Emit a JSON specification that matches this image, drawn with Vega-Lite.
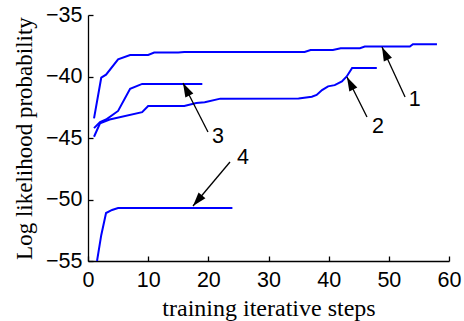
{
  "$schema": "https://vega.github.io/schema/vega-lite/v6.json",
  "autosize": {"type": "none"},
  "padding": {"left": 88, "top": 15, "right": 15, "bottom": 60},
  "width": 361,
  "height": 246,
  "background": "white",
  "config": {
    "view": {"stroke": null},
    "axis": {
      "grid": false,
      "domainColor": "black",
      "domainWidth": 1.3,
      "tickColor": "black",
      "tickWidth": 1.3,
      "tickSize": -5,
      "labelFlush": false,
      "labelFont": "Liberation Sans",
      "labelFontSize": 21.5,
      "labelColor": "black",
      "titleFont": "Liberation Serif",
      "titleFontWeight": "normal",
      "titleColor": "black"
    }
  },
  "datasets": {
    "lines": [
      {"s": "1", "x": 1, "y": -43.4}, {"s": "1", "x": 2.2, "y": -40.1}, {"s": "1", "x": 3, "y": -39.85},
      {"s": "1", "x": 5, "y": -38.6}, {"s": "1", "x": 7, "y": -38.25}, {"s": "1", "x": 10, "y": -38.25},
      {"s": "1", "x": 11, "y": -38.05}, {"s": "1", "x": 15, "y": -38.05}, {"s": "1", "x": 16, "y": -38.0},
      {"s": "1", "x": 36, "y": -38.0}, {"s": "1", "x": 37, "y": -37.85}, {"s": "1", "x": 40.7, "y": -37.85},
      {"s": "1", "x": 42, "y": -37.7}, {"s": "1", "x": 45.2, "y": -37.7}, {"s": "1", "x": 46, "y": -37.57},
      {"s": "1", "x": 53.5, "y": -37.57}, {"s": "1", "x": 54, "y": -37.38}, {"s": "1", "x": 58, "y": -37.38},
      {"s": "2", "x": 1, "y": -44.9}, {"s": "2", "x": 2, "y": -43.8}, {"s": "2", "x": 3.6, "y": -43.5},
      {"s": "2", "x": 9, "y": -42.9}, {"s": "2", "x": 10, "y": -42.4}, {"s": "2", "x": 16, "y": -42.4},
      {"s": "2", "x": 18, "y": -42.15}, {"s": "2", "x": 19.4, "y": -42.1}, {"s": "2", "x": 22, "y": -41.8},
      {"s": "2", "x": 35, "y": -41.78}, {"s": "2", "x": 37.2, "y": -41.64}, {"s": "2", "x": 38, "y": -41.5},
      {"s": "2", "x": 38.9, "y": -41.1}, {"s": "2", "x": 39.9, "y": -40.8}, {"s": "2", "x": 41, "y": -40.7},
      {"s": "2", "x": 42.2, "y": -40.4}, {"s": "2", "x": 43, "y": -40.0}, {"s": "2", "x": 43.9, "y": -39.3},
      {"s": "2", "x": 48, "y": -39.3},
      {"s": "3", "x": 1, "y": -44.2}, {"s": "3", "x": 2, "y": -43.7}, {"s": "3", "x": 3, "y": -43.5},
      {"s": "3", "x": 5, "y": -42.8}, {"s": "3", "x": 7, "y": -41.0}, {"s": "3", "x": 9, "y": -40.6},
      {"s": "3", "x": 19, "y": -40.6},
      {"s": "4", "x": 1.5, "y": -55}, {"s": "4", "x": 2.2, "y": -52.9}, {"s": "4", "x": 3, "y": -51.1},
      {"s": "4", "x": 4, "y": -50.85}, {"s": "4", "x": 5, "y": -50.7}, {"s": "4", "x": 24, "y": -50.7}
    ],
    "arrows": [
      {"id": "1", "tx": 52.7, "ty": -41.67, "hx": 48.86, "hy": -37.6, "lx": 54.3, "ly": -41.9},
      {"id": "2", "tx": 46.37, "ty": -43.29, "hx": 43.04, "hy": -40.04, "lx": 48.2, "ly": -44.1},
      {"id": "3", "tx": 19.94, "ty": -44.51, "hx": 15.79, "hy": -40.53, "lx": 21.6, "ly": -44.92},
      {"id": "4", "tx": 23.6, "ty": -46.95, "hx": 17.45, "hy": -50.53, "lx": 25.76, "ly": -46.63}
    ]
  },
  "layer": [
    {
      "data": {"name": "lines"},
      "mark": {"type": "line", "color": "#0000ff", "strokeWidth": 2, "clip": true},
      "encoding": {
        "x": {"field": "x", "type": "quantitative", "scale": {"domain": [0, 60], "nice": false, "zero": false},
              "axis": {"values": [0, 10, 20, 30, 40, 50, 60], "title": "training iterative steps", "titleFontSize": 24, "labelPadding": 13, "titlePadding": 6}},
        "y": {"field": "y", "type": "quantitative", "scale": {"domain": [-55, -35], "nice": false, "zero": false},
              "axis": {"values": [-55, -50, -45, -40, -35], "title": "Log likelihood probability", "titleFontSize": 23, "labelPadding": 11, "titlePadding": 9}},
        "detail": {"field": "s"},
        "order": {"field": "x", "type": "quantitative"}
      }
    },
    {
      "data": {"name": "arrows"},
      "mark": {"type": "rule", "color": "black", "strokeWidth": 1.3},
      "encoding": {
        "x": {"field": "tx", "type": "quantitative"},
        "y": {"field": "ty", "type": "quantitative"},
        "x2": {"field": "hx"},
        "y2": {"field": "hy"}
      }
    },
    {
      "data": {"name": "arrows"},
      "transform": [{"filter": "datum.id == '1'"}],
      "mark": {"type": "point", "shape": "M0,0 L-0.32,1 L0.32,1 Z", "filled": true, "color": "black", "opacity": 1, "size": 784, "angle": 335},
      "encoding": {"x": {"field": "hx", "type": "quantitative"}, "y": {"field": "hy", "type": "quantitative"}}
    },
    {
      "data": {"name": "arrows"},
      "transform": [{"filter": "datum.id == '2'"}],
      "mark": {"type": "point", "shape": "M0,0 L-0.32,1 L0.32,1 Z", "filled": true, "color": "black", "opacity": 1, "size": 784, "angle": 333},
      "encoding": {"x": {"field": "hx", "type": "quantitative"}, "y": {"field": "hy", "type": "quantitative"}}
    },
    {
      "data": {"name": "arrows"},
      "transform": [{"filter": "datum.id == '3'"}],
      "mark": {"type": "point", "shape": "M0,0 L-0.32,1 L0.32,1 Z", "filled": true, "color": "black", "opacity": 1, "size": 784, "angle": 333},
      "encoding": {"x": {"field": "hx", "type": "quantitative"}, "y": {"field": "hy", "type": "quantitative"}}
    },
    {
      "data": {"name": "arrows"},
      "transform": [{"filter": "datum.id == '4'"}],
      "mark": {"type": "point", "shape": "M0,0 L-0.32,1 L0.32,1 Z", "filled": true, "color": "black", "opacity": 1, "size": 784, "angle": 220},
      "encoding": {"x": {"field": "hx", "type": "quantitative"}, "y": {"field": "hy", "type": "quantitative"}}
    },
    {
      "data": {"name": "arrows"},
      "mark": {"type": "text", "font": "Liberation Sans", "fontSize": 21.5, "color": "black", "align": "center", "baseline": "middle"},
      "encoding": {
        "x": {"field": "lx", "type": "quantitative"},
        "y": {"field": "ly", "type": "quantitative"},
        "text": {"field": "id"}
      }
    }
  ]
}
